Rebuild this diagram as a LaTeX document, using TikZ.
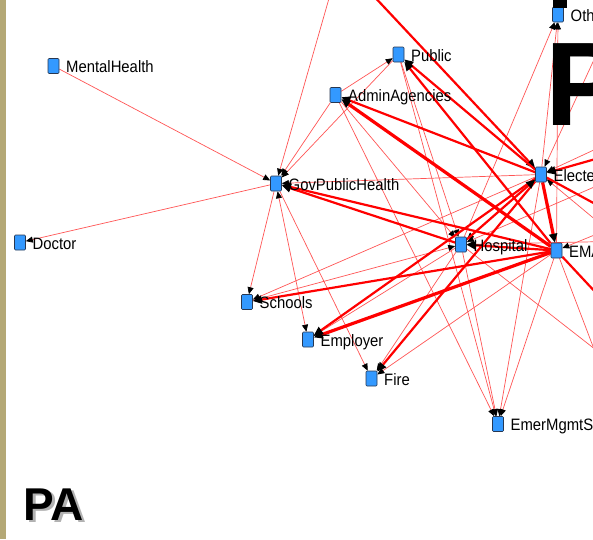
\documentclass[tikz,border=0pt]{standalone}
\usepackage{fontspec}
\setmainfont{Liberation Sans}
\newfontfamily\lblfont[FakeStretch=0.9]{Liberation Sans}
\usetikzlibrary{arrows.meta}
\pgfdeclarelayer{bg}
\pgfdeclarelayer{edges}
\pgfsetlayers{bg,edges,main}
\definecolor{nodeblue}{RGB}{51,153,255}
\definecolor{nodeedge}{RGB}{40,55,80}
\definecolor{thinred}{RGB}{255,85,85}
\definecolor{barkhaki}{RGB}{180,168,118}
\begin{document}
\begin{tikzpicture}[x=1pt,y=-1pt,
  vbox/.style={draw=nodeedge, fill=nodeblue, line width=0.6pt, minimum width=11pt, minimum height=15pt, inner sep=0pt, rounded corners=1pt},
  lbl/.style={anchor=base west, inner sep=0pt, font=\lblfont\fontsize{16.5}{16.5}\selectfont, text=black},
  etip/.style={-{Triangle[length=7pt,width=6pt,color=black]}},
  btip/.style={-{Triangle[length=9pt,width=8pt,color=black]}},
  ethin/.style={draw=thinred, line width=0.7pt, etip},
  eline/.style={draw=thinred, line width=0.7pt},
  etwo/.style={draw=thinred, line width=0.7pt, {Triangle[length=7pt,width=6pt,color=black]}-{Triangle[length=7pt,width=6pt,color=black]}},
  ethick/.style={draw=red, line width=2.2pt, btip},
  evthick/.style={draw=red, line width=3.2pt, btip},
  ethickline/.style={draw=red, line width=2.2pt},
  ttl/.style={anchor=base west, inner sep=0pt, font=\bfseries\fontsize{46}{46}\selectfont}
]
\useasboundingbox (0,0) rectangle (593,539);
\begin{pgfonlayer}{bg}
\fill[white] (0,0) rectangle (593,539);
\end{pgfonlayer}

% nodes
\node[vbox] (mh)   at (53.5,66)   {};
\node[vbox] (doc)  at (20,242.5)  {};
\node[vbox] (gph)  at (276,183.5) {};
\node[vbox] (pub)  at (398.5,54.5){};
\node[vbox] (aa)   at (335.5,95)  {};
\node[vbox] (hosp) at (461,244.5) {};
\node[vbox] (ele)  at (541,174.5) {};
\node[vbox] (ema)  at (556.5,250.5){};
\node[vbox] (oth)  at (558,14.5)  {};
\node[vbox] (sch)  at (247,302)   {};
\node[vbox] (emp)  at (308,339.5) {};
\node[vbox] (fire) at (371.5,378.5){};
\node[vbox] (ems)  at (498,424)   {};

% labels
\node[lbl] (mhl)   at (66,72.5)   {MentalHealth};
\node[lbl] (docl)  at (32.5,249)  {Doctor};
\node[lbl] (gphl)  at (288.5,190) {GovPublicHealth};
\node[lbl] (publ)  at (411,61)    {Public};
\node[lbl] (aal)   at (348,101.5) {AdminAgencies};
\node[lbl] (hospl) at (473.5,251) {Hospital};
\node[lbl] (elel)  at (553.5,181) {Elected};
\node[lbl] (emal)  at (569,257)   {EMA};
\node[lbl] (othl)  at (570.5,21)  {Oth};
\node[lbl] (schl)  at (259.5,308.5){Schools};
\node[lbl] (empl)  at (320.5,346) {Employer};
\node[lbl] (firel) at (384,385)   {Fire};
\node[lbl] (emsl)  at (510.5,430.5){EmerMgmtS};

% off-canvas ends
\coordinate (T)  at (340,-40);
\coordinate (RG) at (640,-40);
\coordinate (RA) at (680,110);
\coordinate (RH) at (680,150);
\coordinate (RB) at (680,200);
\coordinate (RC) at (680,240);
\coordinate (RD) at (680,290);
\coordinate (RE) at (660,400);
\coordinate (RF) at (640,470);
\coordinate (RK) at (680,250);
\coordinate (RL) at (640,340);
\coordinate (RM) at (680,135);

\begin{pgfonlayer}{edges}
\clip (0,0) rectangle (593,539);
% thin connectors
\draw[ethin] (mh) -- (gph);
\draw[ethin] (gph) -- (doc);
\draw[ethin] (gph) -- (sch);
\draw[etwo]  (gph) -- (emp);
\draw[ethin] (gph) -- (fire);
\draw[ethin] (T) -- (gph);
\draw[ethin] (pub) -- (gph);
\draw[ethin] (aa) -- (gph);
\draw[ethin] (aa) -- (pub);
\draw[ethin] (pub) -- (hosp);
\draw[ethin] (aa) -- (hosp);
\draw[ethin] (aa) -- (ems);
\draw[ethin] (pub) -- (ems);
\draw[ethin] (ele) -- (gph);
\draw[ethin] (ele) -- (sch);
\draw[ethin] (hosp) -- (emp);
\draw[ethin] (ema) -- (fire);
\draw[ethin] (hosp) -- (fire);
\draw[ethin] (hosp) -- (ems);
\draw[ethin] (ele) -- (ems);
\draw[ethin] (ema) -- (ems);
\draw[ethin] (hosp) -- (oth);
\draw[ethin] (ele) -- (oth);
\draw[ethin] (ema) -- (oth);
\draw[ethin] (RG) -- (ele);
\draw[ethin] (RA) -- (ele);
\draw[ethin] (RH) -- (hosp);
\draw[ethin] (RC) -- (hosp);
\draw[eline] (hosp) -- (RE);
\draw[eline] (ema) -- (RF);
\draw[ethin] (RB) -- (ema);
\draw[ethin] (RD) -- (ele);
\draw[ethin] (ele) -- (hosp);
\draw[ethin] (sch) -- (hosp);
% thick connectors
\draw[ethick] (T) -- (ele);
\draw[ethick] (ele) -- (pub);
\draw[ethick] (ema) -- (pub);
\draw[ethick] (ele) -- (aa);
\draw[evthick] (ema) -- (aa);
\draw[ethick] (hosp) -- (gph);
\draw[ethick] (ema) -- (gph);
\draw[ethick] (ema) -- (sch);
\draw[evthick] (ema) -- (emp);
\draw[ethick] (ele) -- (emp);
\draw[ethick] (ele) -- (fire);
\draw[evthick] (ele) -- (ema);
\draw[ethick] (hosp) -- (ele);
\draw[ethick] (ema) -- (hosp);
\draw[ethickline] (ele) -- (RK);
\draw[ethickline] (ema) -- (RL);
\draw[ethick] (RM) -- (ele);
\end{pgfonlayer}

% decorations
\fill[barkhaki] (0,0) rectangle (6,539);
\fill[black] (553,0) rectangle (567,7.5);
\begin{scope}
\clip (0,0) rectangle (593,539);
\node[anchor=base west, inner sep=0pt, font=\bfseries\fontsize{119}{119}\selectfont] (bigp) at (545,125) {P};
\end{scope}
\node[ttl, text=black, opacity=0.3] (pash) at (26,522.5) {PA};
\node[ttl, text=black] (pa) at (23.5,520) {PA};
\end{tikzpicture}
\end{document}
